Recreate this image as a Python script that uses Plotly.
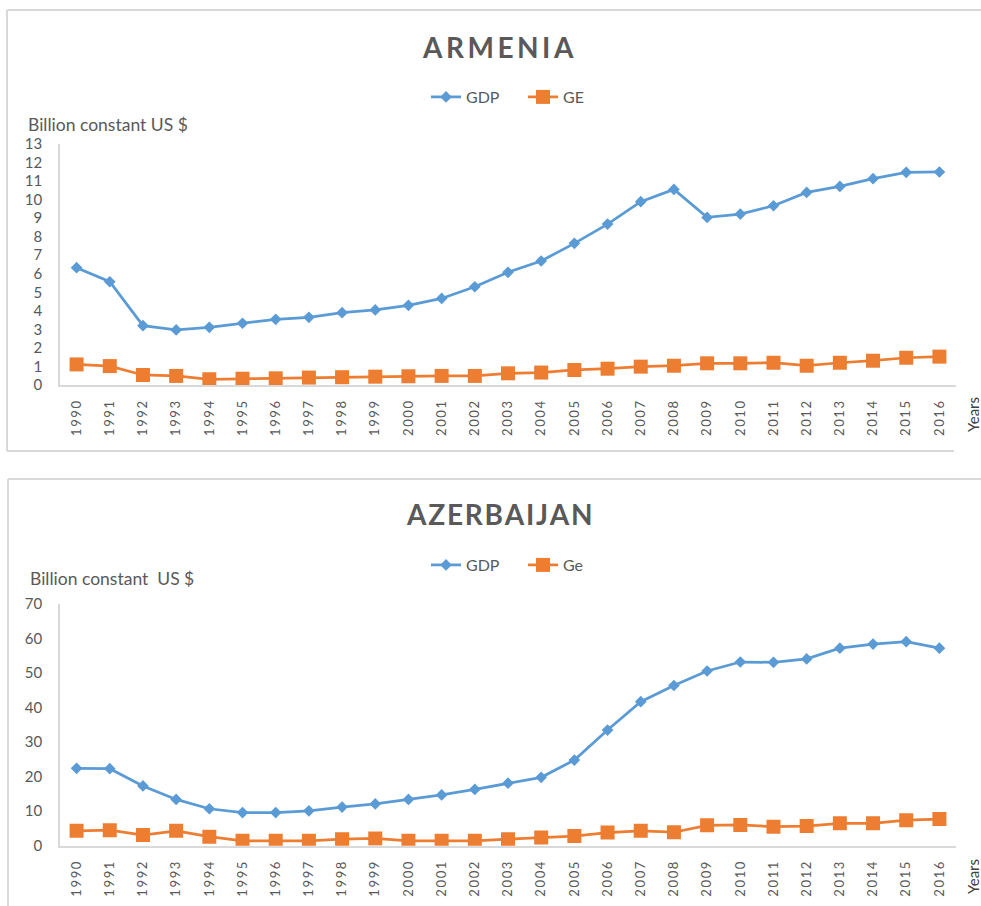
import plotly.graph_objects as go

W, H = 981, 906

years = [str(y) for y in range(1990, 2017)]

arm_gdp = [6.33, 5.57, 3.20, 2.97, 3.11, 3.33, 3.54, 3.65, 3.90, 4.05, 4.30, 4.67, 5.30, 6.08,
           6.69, 7.64, 8.68, 9.89, 10.55, 9.04, 9.22, 9.67, 10.39, 10.71, 11.13, 11.47, 11.49]
arm_ge = [1.11, 1.02, 0.54, 0.49, 0.31, 0.34, 0.36, 0.40, 0.42, 0.45, 0.47, 0.49, 0.49, 0.63,
          0.67, 0.81, 0.88, 0.99, 1.04, 1.17, 1.17, 1.20, 1.04, 1.20, 1.31, 1.47, 1.53]
aze_gdp = [22.4, 22.3, 17.3, 13.4, 10.7, 9.6, 9.6, 10.1, 11.2, 12.1, 13.4, 14.7, 16.3, 18.1,
           19.8, 24.8, 33.5, 41.7, 46.4, 50.6, 53.2, 53.1, 54.1, 57.2, 58.4, 59.1, 57.2]
aze_ge = [4.3, 4.5, 3.1, 4.3, 2.6, 1.4, 1.4, 1.4, 1.9, 2.1, 1.4, 1.4, 1.4, 1.9,
          2.4, 2.8, 3.8, 4.3, 3.9, 5.9, 6.0, 5.5, 5.7, 6.5, 6.5, 7.4, 7.7]

arm_ticks = list(range(0, 14))
aze_ticks = list(range(0, 71, 10))

FONT = "Lato"
GREY = "#595959"
BLUE = "#5B9BD5"
ORANGE = "#ED7D31"
BORDER = "#D9D9D9"


def px(x):
    return x / W


def py(y):
    return 1 - y / H


def spaced(s, sep):
    return sep.join(list(s))


tick_text = [spaced(y, "\u2009") for y in years]

fig = go.Figure()

series = [
    (arm_gdp, "GDP", BLUE, "diamond", 9, "x", "y", "legend"),
    (arm_ge, "GE", ORANGE, "square", 14, "x", "y", "legend"),
    (aze_gdp, "GDP", BLUE, "diamond", 9, "x2", "y2", "legend2"),
    (aze_ge, "Ge", ORANGE, "square", 14, "x2", "y2", "legend2"),
]
for vals, name, col, sym, size, xa, ya, lg in series:
    fig.add_trace(go.Scatter(
        x=years, y=vals, name=name, mode="lines+markers",
        line=dict(color=col, width=2.75),
        marker=dict(symbol=sym, size=size, color=col),
        xaxis=xa, yaxis=ya, legend=lg,
    ))

xcommon = dict(
    type="category", range=[-0.5, 26.5], showgrid=False, zeroline=False, automargin=False,
    showline=True, linecolor=BORDER, linewidth=1.5,
    tickangle=-90, tickmode="array", tickvals=years, ticktext=tick_text,
    tickfont=dict(family=FONT, size=13, color=GREY), ticks="", ticklabelstandoff=9,
)
ycommon = dict(
    showgrid=False, zeroline=False, showline=True, linecolor=BORDER, linewidth=1.5,
    ticks="", tickmode="array", ticklabelstandoff=13, automargin=False,
    tickfont=dict(family=FONT, size=15, color=GREY),
)

legend_common = dict(orientation="h", xanchor="left", yanchor="middle",
                     font=dict(family=FONT, size=16, color=GREY), bgcolor="rgba(0,0,0,0)",
                     entrywidth=52, entrywidthmode="pixels")

fig.update_layout(
    width=W, height=H,
    margin=dict(l=0, r=0, t=0, b=0, pad=0, autoexpand=False),
    paper_bgcolor="white", plot_bgcolor="white",
    font=dict(family=FONT, color=GREY),
    xaxis=dict(domain=[px(60), px(956)], anchor="y", **xcommon),
    yaxis=dict(domain=[py(385), py(144)], anchor="x", range=[0, 13], tickvals=arm_ticks,
               **ycommon),
    xaxis2=dict(domain=[px(60), px(956)], anchor="y2", **xcommon),
    yaxis2=dict(domain=[py(845.7), py(604)], anchor="x2", range=[0, 70], tickvals=aze_ticks,
                **ycommon),
    legend=dict(x=px(426), y=py(97), **legend_common),
    legend2=dict(x=px(426), y=py(565), **legend_common),
    showlegend=True,
)

annotations = [
    dict(text=spaced("ARMENIA", "\u2009"), x=px(498), y=py(47),
         font=dict(size=28, weight="bold", color=GREY)),
    dict(text=spaced("AZERBAIJAN", "\u200a"), x=px(499), y=py(514),
         font=dict(size=28, weight="bold", color=GREY)),
    dict(text="Billion constant US $", x=px(26), y=py(124), xanchor="left",
         font=dict(size=17.5, color=GREY)),
    dict(text="Billion constant  US $", x=px(28), y=py(578), xanchor="left",
         font=dict(size=17.5, color=GREY)),
    dict(text="Years", x=px(973), y=py(415), textangle=-90, font=dict(size=15, color="#404040")),
    dict(text="Years", x=px(973), y=py(877), textangle=-90, font=dict(size=15, color="#404040")),
]
for a in annotations:
    a.setdefault("xanchor", "center")
    a.update(xref="paper", yref="paper", showarrow=False, yanchor="middle")
    a["font"]["family"] = FONT
    fig.add_annotation(**a)

lines = [
    (7, 10, 981, 10), (7, 10, 7, 451), (7, 451, 954, 451),
    (8, 479, 981, 479), (8, 479, 8, 906),
]
for x0, y0, x1, y1 in lines:
    fig.add_shape(type="line", xref="paper", yref="paper",
                  x0=px(x0), y0=py(y0), x1=px(x1), y1=py(y1),
                  line=dict(color=BORDER, width=2), layer="below")

fig.write_html("out.html", config={"displayModeBar": False},
               post_script="document.body.style.margin='0';")
